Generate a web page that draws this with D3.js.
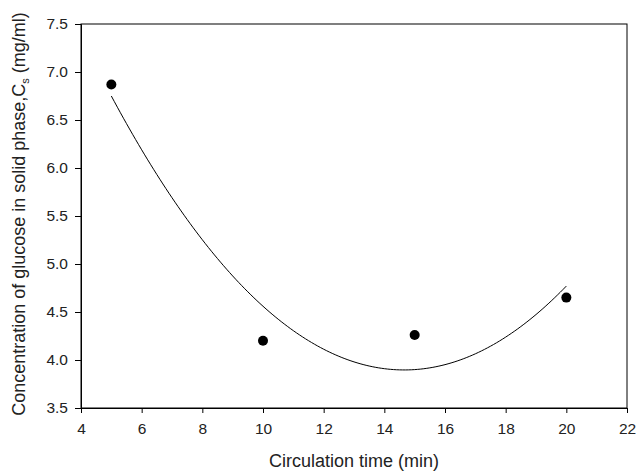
<!DOCTYPE html>
<html>
<head>
<meta charset="utf-8">
<script src="https://cdn.jsdelivr.net/npm/d3@7"></script>
<style>
  body { margin: 0; background: #fff; }
  text { font-family: "Liberation Sans", Arial, sans-serif; fill: #222; }
</style>
</head>
<body>
<svg width="636" height="472"></svg>
<script>
const timeMin = [5, 10, 15, 20]
const concCs = [6.87, 4.20, 4.26, 4.65]
const xTicks = [4, 6, 8, 10, 12, 14, 16, 18, 20, 22]
const yTicks = [3.5, 4.0, 4.5, 5.0, 5.5, 6.0, 6.5, 7.0, 7.5]

const margin = {top: 24, right: 9, bottom: 64, left: 81}
const width = 636 - margin.left - margin.right
const height = 472 - margin.top - margin.bottom

const xScale = d3.scaleLinear().domain([4, 22]).range([0, width])
const yScale = d3.scaleLinear().domain([3.5, 7.5]).range([height, 0])

// 2nd order polynomial regression through the points
function quadFit(xs, ys) {
  let S = [0, 0, 0, 0, 0], T = [0, 0, 0]
  xs.forEach((x, i) => {
    for (let k = 0; k < 5; k++) S[k] += Math.pow(x, k)
    for (let k = 0; k < 3; k++) T[k] += Math.pow(x, k) * ys[i]
  })
  const A = [[S[0], S[1], S[2], T[0]], [S[1], S[2], S[3], T[1]], [S[2], S[3], S[4], T[2]]]
  for (let i = 0; i < 3; i++) {
    for (let j = i + 1; j < 3; j++) {
      const f = A[j][i] / A[i][i]
      for (let k = i; k < 4; k++) A[j][k] -= f * A[i][k]
    }
  }
  const c = [0, 0, 0]
  for (let i = 2; i >= 0; i--) {
    let s = A[i][3]
    for (let k = i + 1; k < 3; k++) s -= A[i][k] * c[k]
    c[i] = s / A[i][i]
  }
  return x => c[0] + c[1] * x + c[2] * x * x
}
const fit = quadFit(timeMin, concCs)
const fitPts = d3.range(5, 20.001, 0.1).map(x => [x, fit(x)])

const svg = d3.select('svg')
const g = svg.append('g').attr('transform', `translate(${margin.left},${margin.top})`)

// frame
g.append('rect')
  .attr('x', 0).attr('y', 0).attr('width', width).attr('height', height)
  .attr('fill', 'none').attr('stroke', '#000').attr('stroke-width', 1)

const xAxis = g.append('g').attr('transform', `translate(0,${height})`)
  .call(d3.axisBottom(xScale).tickValues(xTicks).tickSize(5).tickPadding(10).tickFormat(d3.format('d')))
const yAxis = g.append('g')
  .call(d3.axisLeft(yScale).tickValues(yTicks).tickSize(6).tickPadding(7).tickFormat(d3.format('.1f')))
;[xAxis, yAxis].forEach(a => {
  a.select('.domain').attr('stroke', '#000')
  a.selectAll('.tick line').attr('stroke', '#000')
  a.selectAll('.tick text').attr('font-size', 15.5).attr('fill', '#222')
    .attr('font-family', '"Liberation Sans", Arial, sans-serif')
})

g.append('path')
  .datum(fitPts)
  .attr('fill', 'none')
  .attr('stroke', '#000')
  .attr('stroke-width', 1)
  .attr('d', d3.line().x(d => xScale(d[0])).y(d => yScale(d[1])))

g.selectAll('.dot')
  .data(timeMin)
  .enter()
  .append('circle')
  .classed('dot', true)
  .attr('cx', d => xScale(d))
  .attr('cy', (d, i) => yScale(concCs[i]))
  .attr('r', 5)
  .attr('fill', '#000')

svg.append('text')
  .attr('x', margin.left + width / 2)
  .attr('y', 467)
  .attr('text-anchor', 'middle')
  .attr('font-size', 18)
  .text('Circulation time (min)')

const yt = svg.append('text')
  .attr('transform', `translate(25,214) rotate(-90)`)
  .attr('text-anchor', 'middle')
  .attr('font-size', 18)
yt.append('tspan').text('Concentration of glucose in solid phase,C')
yt.append('tspan').attr('font-size', 11).attr('dy', 4).text('s')
yt.append('tspan').attr('dy', -4).text(' (mg/ml)')
</script>
</body>
</html>
